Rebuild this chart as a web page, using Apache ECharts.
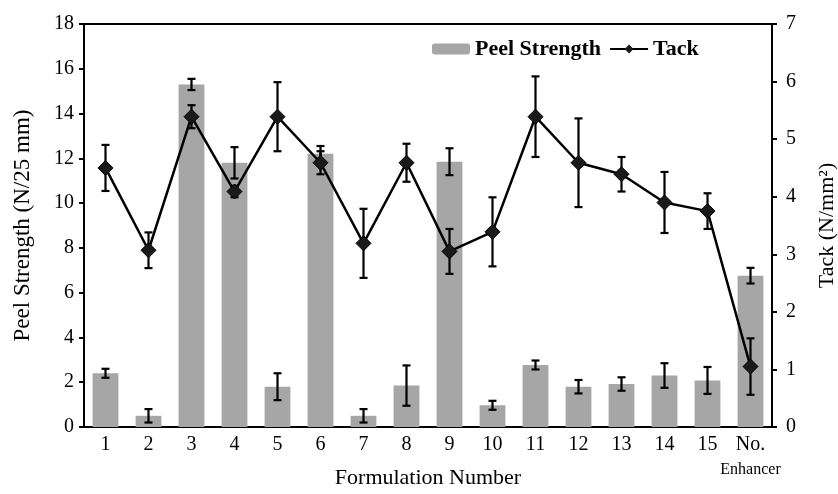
<!DOCTYPE html>
<html><head><meta charset="utf-8">
<script src="https://cdn.jsdelivr.net/npm/echarts@6/dist/echarts.min.js"></script>
<style>html,body{margin:0;padding:0;background:#fff}#c{width:838px;height:494px}</style>
</head><body><div id="c"></div>
<script>
const categories = ['1','2','3','4','5','6','7','8','9','10','11','12','13','14','15','No. Enhancer'];
const peel = [2.4,0.5,15.3,11.8,1.8,12.2,0.5,1.85,11.85,0.97,2.77,1.8,1.92,2.3,2.08,6.76];
const peelErr = [0.2,0.3,0.25,0.7,0.6,0.35,0.3,0.9,0.6,0.2,0.2,0.3,0.3,0.55,0.6,0.35];
const tack = [4.5,3.07,5.39,4.09,5.39,4.59,3.19,4.59,3.05,3.39,5.39,4.59,4.39,3.9,3.75,1.05];
const tackErr = [0.4,0.31,0.2,0.1,0.6,0.2,0.6,0.33,0.39,0.6,0.7,0.77,0.3,0.53,0.31,0.49];
const leftTicks = {min:0,max:18,interval:2};
const rightTicks = {min:0,max:7,interval:1};

const font = 'Liberation Serif';
function errData(vals, errs){ return vals.map((v,i)=>[i, v-errs[i], v+errs[i]]); }
function errRender(params, api){
  const x = api.value(0), lo = api.value(1), hi = api.value(2);
  const p1 = api.coord([x, hi]), p2 = api.coord([x, lo]);
  const cap = 4;
  const st = {stroke:'#000', lineWidth:2.2};
  return {type:'group', children:[
    {type:'line', shape:{x1:p1[0],y1:p1[1],x2:p2[0],y2:p2[1]}, style:st},
    {type:'line', shape:{x1:p1[0]-cap,y1:p1[1],x2:p1[0]+cap,y2:p1[1]}, style:st},
    {type:'line', shape:{x1:p2[0]-cap,y1:p2[1],x2:p2[0]+cap,y2:p2[1]}, style:st}
  ]};
}
const chart = echarts.init(document.getElementById('c'));
chart.setOption({
  animation:false,
  textStyle:{fontFamily:font,color:'#000'},
  grid:{left:84,right:66,top:24,bottom:67,containLabel:false,outerBoundsMode:'none',show:true,borderColor:'#000',borderWidth:2,backgroundColor:'transparent'},
  legend:{left:427,top:33,itemGap:8,itemWidth:38,itemHeight:11,
    textStyle:{fontFamily:font,fontSize:22,fontWeight:'bold',color:'#000'},
    data:['Peel Strength','Tack']},
  xAxis:{type:'category',data:categories,
    axisLine:{lineStyle:{color:'#000',width:2}},axisTick:{show:false},
    axisLabel:{fontFamily:font,fontSize:20,color:'#000',margin:6,interval:0,
      formatter:function(v){ return v==='No. Enhancer' ? '{a|No.}\n{b|Enhancer}' : '{a|'+v+'}'; },
      rich:{a:{fontFamily:font,fontSize:20,color:'#000',lineHeight:24},b:{fontFamily:font,fontSize:16,color:'#000',lineHeight:26}}},
    name:'Formulation Number',nameLocation:'middle',nameGap:40,nameMoveOverlap:false,
    nameTextStyle:{fontFamily:font,fontSize:22,color:'#000'}},
  yAxis:[
    {type:'value',min:leftTicks.min,max:leftTicks.max,interval:leftTicks.interval,
      axisLine:{show:true,lineStyle:{color:'#000',width:2}},axisTick:{show:true,length:5,lineStyle:{color:'#000',width:2}},
      splitLine:{show:false},
      axisLabel:{fontFamily:font,fontSize:20,color:'#000',margin:10},
      name:'Peel Strength (N/25 mm)',nameLocation:'middle',nameGap:50,nameRotate:90,nameMoveOverlap:false,
      nameTextStyle:{fontFamily:font,fontSize:23,color:'#000'}},
    {type:'value',min:rightTicks.min,max:rightTicks.max,interval:rightTicks.interval,position:'right',
      axisLine:{show:true,lineStyle:{color:'#000',width:2}},axisTick:{show:true,length:5,lineStyle:{color:'#000',width:2}},
      splitLine:{show:false},
      axisLabel:{fontFamily:font,fontSize:20,color:'#000',margin:14},
      name:'Tack (N/mm²)',nameLocation:'middle',nameGap:44,nameRotate:90,nameMoveOverlap:false,
      nameTextStyle:{fontFamily:font,fontSize:22,color:'#000'}}
  ],
  series:[
    {name:'Peel Strength',type:'bar',data:peel,yAxisIndex:0,barWidth:'60%',
      itemStyle:{color:'#a6a6a6'}},
    {name:'PeelErr',type:'custom',data:errData(peel,peelErr),yAxisIndex:0,renderItem:errRender,z:5},
    {name:'TackErr',type:'custom',data:errData(tack,tackErr),yAxisIndex:1,renderItem:errRender,z:6},
    {name:'Tack',type:'line',data:tack,yAxisIndex:1,symbol:'diamond',symbolSize:15,
      lineStyle:{color:'#000',width:2.5},itemStyle:{color:'#1a1a1a',borderColor:'#000'},z:7}
  ]
});
</script></body></html>
